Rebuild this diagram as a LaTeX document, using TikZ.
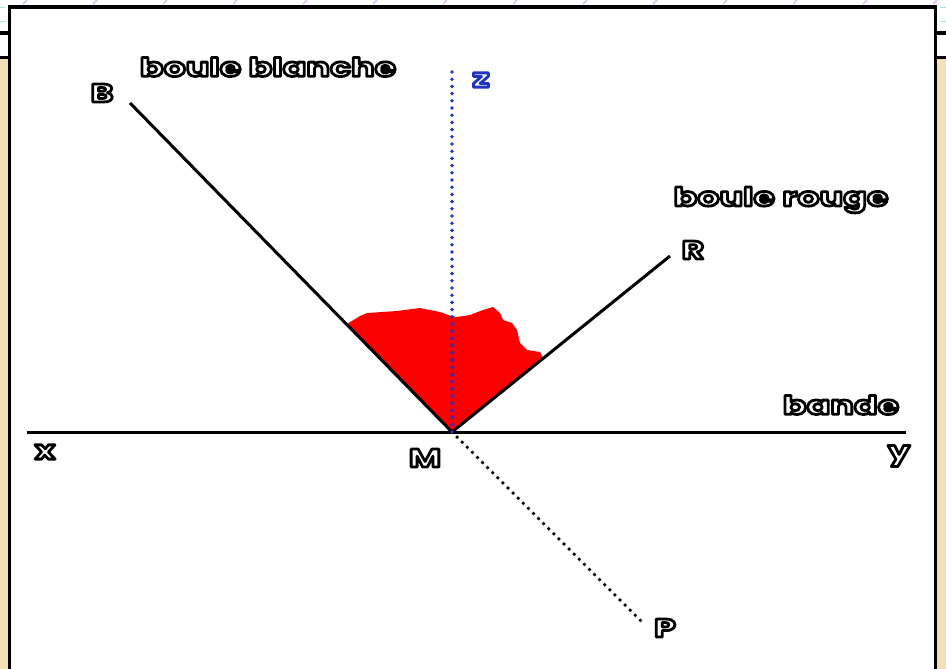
\documentclass[tikz,border=0pt]{standalone}
\usepackage{fontspec}
\newfontfamily\labfont{Poppins Bold}[FakeStretch=1.37]
\definecolor{parch}{RGB}{241,224,180}
\definecolor{zblue}{RGB}{30,50,200}
\definecolor{marks}{RGB}{215,180,240}
\definecolor{tealm}{RGB}{150,235,215}
\definecolor{redfill}{RGB}{250,0,0}
% outlined text: white fill, coloured stroke (one copy of the text)
\newcommand{\olab}[2]{\special{pdf:literal direct 2 Tr 2.8 w 1 j 1 J #1 RG}#2\special{pdf:literal direct 0 Tr}}
\tikzset{
  lab/.style={font=\labfont\fontsize{25.5}{25.5}\selectfont, inner sep=0pt, text=white},
  mainline/.style={line width=3pt, black},
  dotline/.style={line width=3.8pt, line cap=round, dash pattern=on 0pt off 7.2pt},
  frame/.style={line width=3.2pt, black},
}
\begin{document}
\begin{tikzpicture}[x=1pt,y=-1pt]
\useasboundingbox (0,0) rectangle (946,669);
% outside background
\fill[white] (0,0) rectangle (946,669);
\fill[parch] (0,58) rectangle (946,669);
% decorative marks on top strip
\foreach \i in {0,...,13} {
  \draw[marks, line width=1.2pt] (23+70*\i,4) -- (27+70*\i,0);
}
\draw[tealm, line width=1pt] (0,8) -- (5,8);
\draw[tealm, line width=1pt] (0,22) -- (5,22);
\draw[tealm, line width=1pt] (940,8) -- (946,8);
\draw[tealm, line width=1pt] (940,22) -- (946,22);
% header bars outside panel
\draw[frame] (0,33) -- (946,33);
\draw[frame] (0,57.5) -- (946,57.5);
% white panel
\fill[white] (9.5,7) rectangle (935.5,672);
\draw[frame] (9.5,672) -- (9.5,7) -- (935.5,7) -- (935.5,672);
% key points
\coordinate (M) at (452,432);
\coordinate (Bend) at (130,103);
\coordinate (Rend) at (670,256);
\coordinate (Pend) at (642,622);
\coordinate (ztop) at (452,72);
\coordinate (xend) at (27,432);
\coordinate (yend) at (906,432);
% red angle region
\fill[redfill] (M) -- (347,324) -- (360,316) -- (367,313) -- (397,311) -- (420,308) -- (440,312) -- (451,316)
  -- (457,317) -- (470,315) -- (483,310) -- (493,307) -- (500,313) -- (503,320) -- (512,323)
  -- (517,330) -- (520,343) -- (527,350) -- (540,352) -- (543,358) -- cycle;
% lines
\draw[mainline] (xend) -- (yend);
\draw[mainline] (Bend) -- (M) -- (Rend);
\draw[dotline, black] (M) -- (Pend);
\draw[dotline, zblue] (M) -- (ztop);
% labels
\node[lab] (lbb) at (268,67) {\olab{0 0 0}{boule blanche}};
\node[lab] (lB) at (102,93) {\olab{0 0 0}{B}};
\node[lab] (lz) at (481,80) {\olab{0.12 0.2 0.78}{z}};
\node[lab] (lbr) at (781,200) {\olab{0 0 0}{boule rouge}};
\node[lab] (lR) at (693,250) {\olab{0 0 0}{R}};
\node[lab] (lbande) at (841,405) {\olab{0 0 0}{bande}};
\node[lab] (lx) at (45,452) {\olab{0 0 0}{x}};
\node[lab] (lM) at (425,458) {\olab{0 0 0}{M}};
\node[lab] (ly) at (899,456) {\olab{0 0 0}{y}};
\node[lab] (lP) at (665,628) {\olab{0 0 0}{P}};
\end{tikzpicture}
\end{document}
